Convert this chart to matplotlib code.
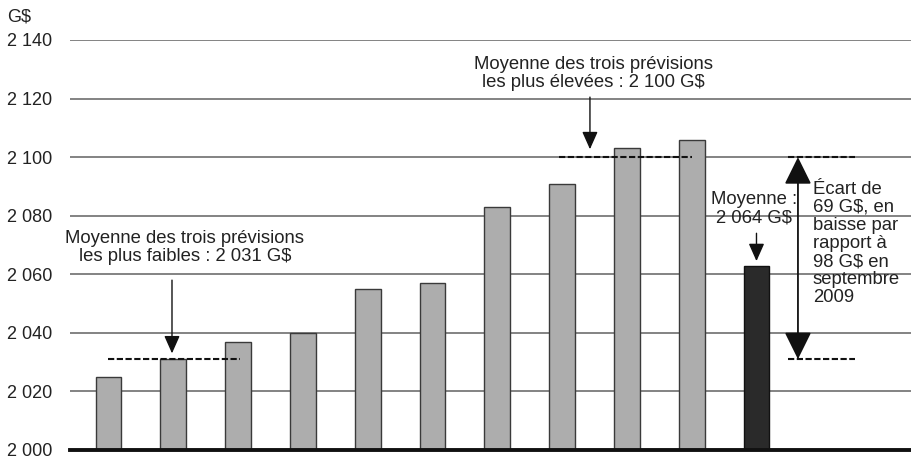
import matplotlib.pyplot as plt

plt.rcParams['font.family'] = ['Liberation Sans', 'DejaVu Sans']

# forecasts (G$), sorted, plus the average shown in dark
forecasts = [2025, 2031, 2037, 2040, 2055, 2057, 2083, 2091, 2103, 2106]
average = 2063
low_mean = 2031
high_mean = 2100
yticks = [2000, 2020, 2040, 2060, 2080, 2100, 2120, 2140]
ytick_labels = ['2 000', '2 020', '2 040', '2 060', '2 080', '2 100', '2 120', '2 140']

txt_col = '#222222'

fig = plt.figure(figsize=(9.12, 4.63), dpi=100)
ax = fig.add_axes([70 / 912, 13 / 463, 842 / 912, 410 / 463])

xs = list(range(len(forecasts)))
ax.bar(xs, forecasts, width=0.4, color='#adadad', edgecolor='#3a3a3a', linewidth=1, zorder=3)
ax.bar([len(forecasts)], [average], width=0.4, color='#2a2a2a', edgecolor='#111111', linewidth=1, zorder=3)

ax.set_ylim(2000, 2140)
ax.set_xlim(-0.594, 12.4)
ax.set_yticks(yticks)
ax.set_yticklabels(ytick_labels)
ax.tick_params(axis='y', length=0, pad=45.4, labelsize=13, labelcolor=txt_col)
for lab in ax.get_yticklabels():
    lab.set_horizontalalignment('left')
ax.set_xticks([])
ax.grid(axis='y', color='#7a7a7a', linewidth=1.3, zorder=1)
for s in ['top', 'left', 'right']:
    ax.spines[s].set_visible(False)
ax.spines['bottom'].set_linewidth(2.8)
ax.spines['bottom'].set_color('#111111')
ax.spines['bottom'].set_zorder(5)

fig.text(7 / 912, 1 - 17 / 463, 'G$', fontsize=13, color=txt_col, va='center', ha='left')

# dashed mean lines
dash = dict(color='#111111', linewidth=1.5, linestyle=(0, (3, 1.2)), zorder=4)
ax.plot([0, 2.03], [low_mean, low_mean], **dash)
ax.plot([6.95, 9.0], [high_mean, high_mean], **dash)
ax.plot([10.49, 11.52], [high_mean, high_mean], **dash)
ax.plot([10.49, 11.52], [low_mean, low_mean], **dash)

# small arrows
small = dict(arrowstyle='-|>,head_length=0.9,head_width=0.4', color='#111111', lw=1,
             mutation_scale=12, shrinkA=0, shrinkB=0)
ax.annotate('', xy=(0.98, 2033), xytext=(0.98, 2058), arrowprops=small, zorder=6)
ax.annotate('', xy=(7.43, 2102.7), xytext=(7.43, 2120.5), arrowprops=small, zorder=6)
ax.annotate('', xy=(10.0, 2064.5), xytext=(10.0, 2074), arrowprops=small, zorder=6)

# double arrow for the gap
big = dict(arrowstyle='<|-|>,head_length=0.85,head_width=0.42', color='#111111', lw=1.3,
           mutation_scale=20, shrinkA=0, shrinkB=0)
ax.annotate('', xy=(10.64, high_mean), xytext=(10.64, low_mean), arrowprops=big, zorder=6)

tk = dict(fontsize=13.3, color=txt_col, linespacing=1.08)
ax.text(1.18, 2069, 'Moyenne des trois prévisions\nles plus faibles : 2 031 G$',
        ha='center', va='center', **tk)
ax.text(7.48, 2128.7, 'Moyenne des trois prévisions\nles plus élevées : 2 100 G$',
        ha='center', va='center', **tk)
ax.text(9.96, 2082.3, 'Moyenne :\n2 064 G$', ha='center', va='center', **tk)
ax.text(10.87, 2070.5, 'Écart de\n69 G$, en\nbaisse par\nrapport à\n98 G$ en\nseptembre\n2009',
        ha='left', va='center', **tk)

fig.savefig('out.png', dpi=100)
